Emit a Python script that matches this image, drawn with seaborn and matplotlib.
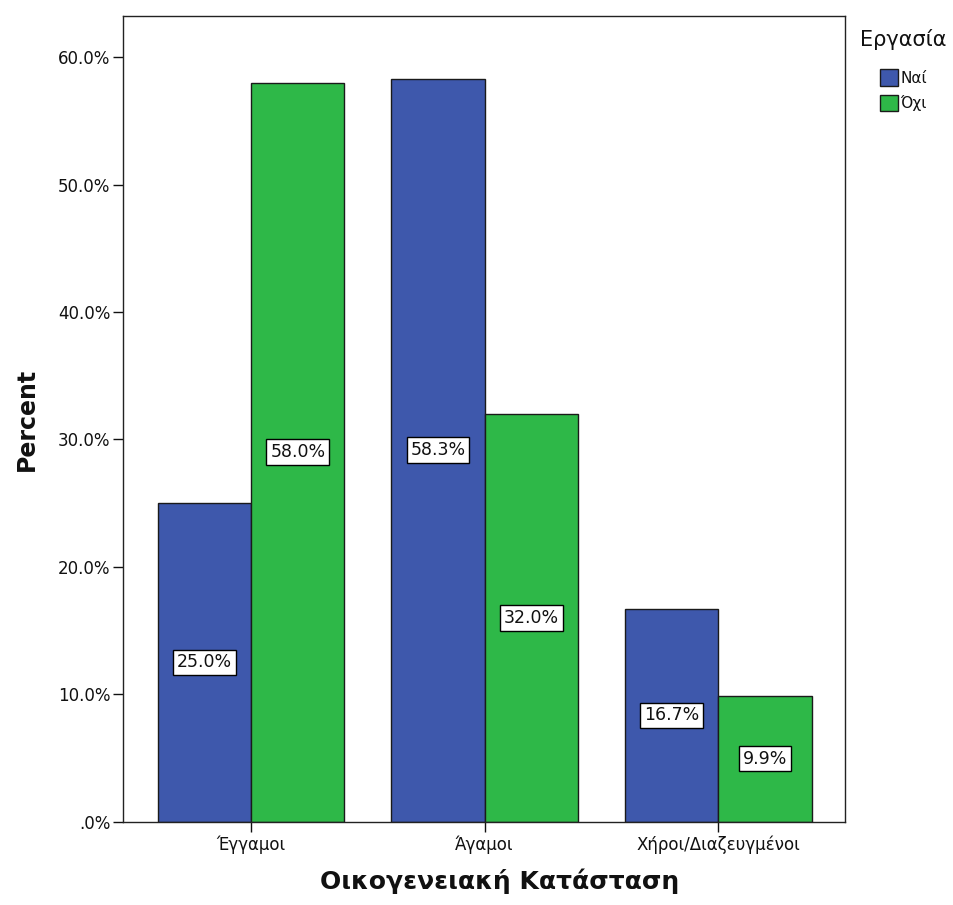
import pandas as pd
import matplotlib
matplotlib.use("Agg")
import matplotlib.pyplot as plt
import seaborn as sns

# data
categories = ["Έγγαμοι", "Άγαμοι", "Χήροι/Διαζευγμένοι"]
work_yes = [25.0, 58.3, 16.7]
work_no = [58.0, 32.0, 9.9]
hue_labels = ["Ναί", "Όχι"]
y_ticks = [0, 10, 20, 30, 40, 50, 60]

df = pd.DataFrame({
    "category": categories * 2,
    "percent": work_yes + work_no,
    "work": [hue_labels[0]] * 3 + [hue_labels[1]] * 3,
})

sns.set_style("white")
plt.rcParams["font.family"] = ["DejaVu Sans"]
plt.rcParams["text.color"] = "#111111"
plt.rcParams["axes.labelcolor"] = "#111111"
plt.rcParams["xtick.color"] = "#111111"
plt.rcParams["ytick.color"] = "#111111"

fig = plt.figure(figsize=(9.54, 9.05), dpi=100)
ax = fig.add_axes([0.129, 0.092, 0.757, 0.890])

sns.barplot(data=df, x="category", y="percent", hue="work", order=categories,
            hue_order=hue_labels, palette=["#3E58AC", "#2EB848"], saturation=1,
            width=0.8, edgecolor="#1a1a1a", linewidth=1.0, ax=ax, legend=True)

# value labels in the middle of each bar
for cont in ax.containers:
    for bar in cont:
        h = bar.get_height()
        ax.text(bar.get_x() + bar.get_width() / 2, h / 2, f"{h:.1f}%",
                ha="center", va="center", fontsize=12.5,
                bbox=dict(boxstyle="square,pad=0.22", fc="white", ec="black", lw=1))

ax.set_ylim(0, 63.2)
ax.set_xlim(-0.548, 2.544)
ax.set_yticks(y_ticks)
ax.set_yticklabels([".0%" if t == 0 else f"{t:.1f}%" for t in y_ticks], fontsize=12)
ax.tick_params(axis="x", labelsize=12, length=7, width=1, direction="out", bottom=True, pad=3)
ax.tick_params(axis="y", length=7, width=1, direction="out", left=True, pad=2)

for s in ax.spines.values():
    s.set_color("#222222")
    s.set_linewidth(1)

ax.set_xlabel("Οικογενειακή Κατάσταση", fontsize=18, fontweight="bold")
ax.xaxis.set_label_coords(0.522, -0.058)
ax.set_ylabel("Percent", fontsize=17, fontweight="bold", labelpad=14)

leg = ax.legend(title="Εργασία", loc="upper left", bbox_to_anchor=(860 / 954, 1 - 29 / 905),
                bbox_transform=fig.transFigure, frameon=False, fontsize=11,
                title_fontsize=15, handlelength=1.2, handleheight=1.25,
                handletextpad=0.15, labelspacing=0.6, borderaxespad=0, borderpad=0)
# a bit more room between legend title and entries
leg._legend_box.sep = 14

fig.savefig("out.png", dpi=100, facecolor="white")
